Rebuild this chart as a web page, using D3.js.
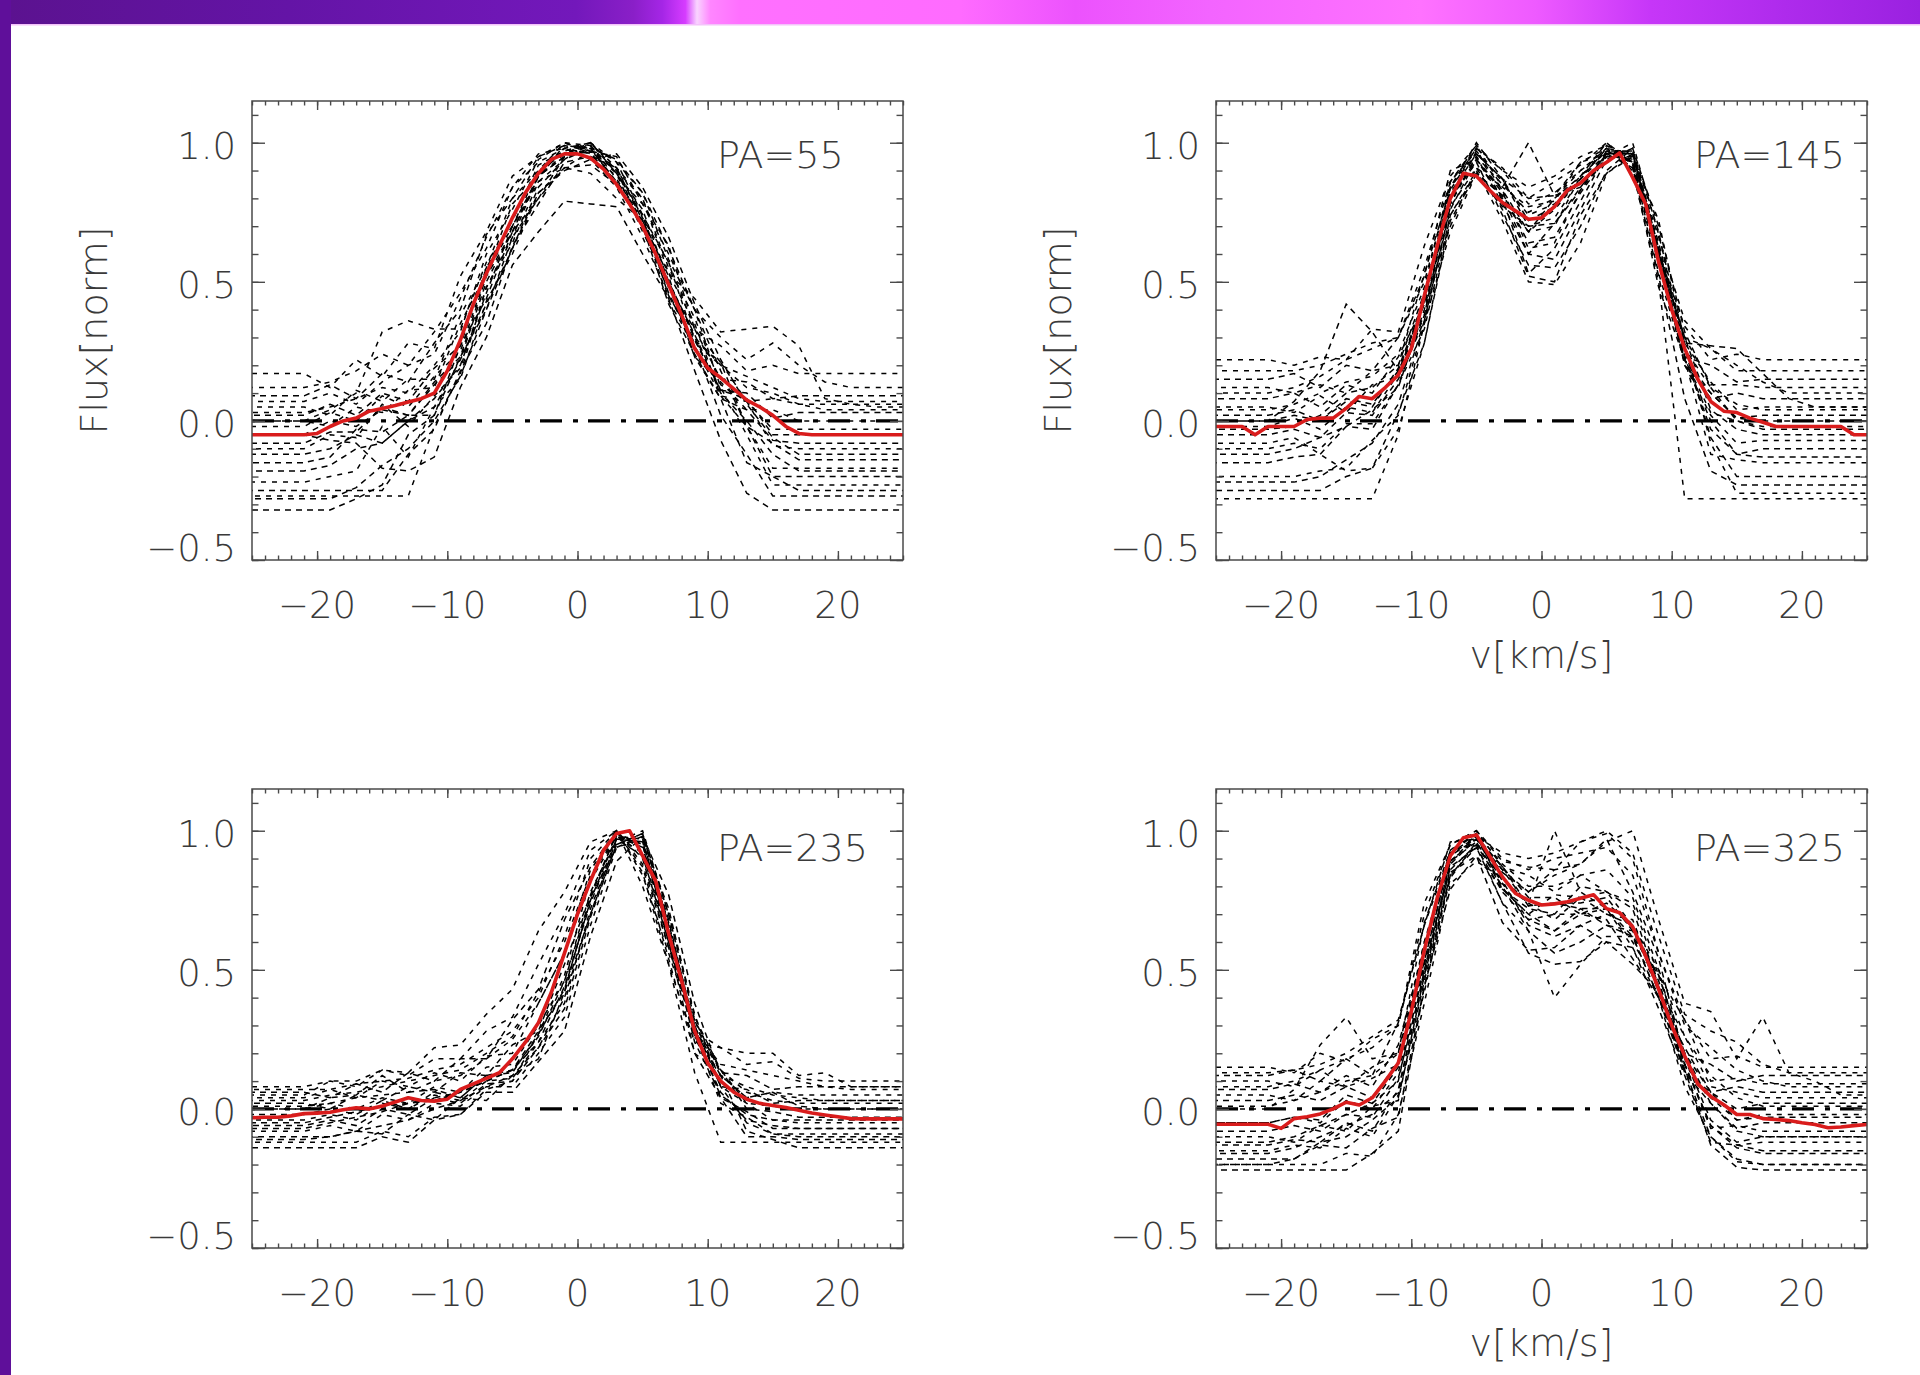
<!DOCTYPE html>
<html><head><meta charset="utf-8">
<script src="https://cdn.jsdelivr.net/npm/d3@7"></script>
<style>html,body{margin:0;padding:0;background:#fff;overflow:hidden}svg{display:block}</style>
</head><body>
<svg id="c" width="1920" height="1375"></svg>
<script>
// ---------------- DATA ----------------
const panelLabels = ["PA=55", "PA=145", "PA=235", "PA=325"];
const yTickValues = [-0.5, 0.0, 0.5, 1.0];
const yTickLabels = ["\u22120.5", "0.0", "0.5", "1.0"];
const xTickValues = [-20, -10, 0, 10, 20];
const xTickLabels = ["\u221220", "\u221210", "0", "10", "20"];
const xTitle = "v[km/s]";
const yTitle = "Flux[norm]";

const vCoarse = [-25,-23,-21,-19,-17,-15,-13,-11,-9,-7,-5,-3,-1,1,3,5,7,9,11,13,15,17,19,21,23,25];
const vFine = [-25,-24,-23,-22,-21,-20,-19,-18,-17,-16,-15,-14,-13,-12,-11,-10,-9,-8,-7,-6,-5,-4,-3,-2,-1,0,1,2,3,4,5,6,7,8,9,10,11,12,13,14,15,16,17,18,19,20,21,22,23,24,25];

const meanPA55 = [-0.05,-0.05,-0.05,-0.05,-0.05,-0.045,-0.02,0.0,0.01,0.035,0.045,0.055,0.068,0.08,0.1,0.18,0.29,0.42,0.53,0.63,0.73,0.82,0.89,0.94,0.96,0.96,0.945,0.905,0.85,0.78,0.70,0.60,0.49,0.38,0.26,0.19,0.155,0.115,0.075,0.05,0.02,-0.02,-0.045,-0.05,-0.05,-0.05,-0.05,-0.05,-0.05,-0.05,-0.05];
const meanPA145 = [-0.02,-0.02,-0.02,-0.05,-0.02,-0.02,-0.02,0.005,0.01,0.01,0.045,0.088,0.08,0.12,0.165,0.26,0.45,0.63,0.8,0.89,0.88,0.83,0.785,0.755,0.725,0.73,0.77,0.83,0.855,0.9,0.93,0.963,0.875,0.78,0.57,0.4,0.26,0.15,0.07,0.035,0.03,0.01,-0.005,-0.02,-0.02,-0.02,-0.02,-0.02,-0.02,-0.05,-0.05];
const meanPA235 = [-0.032,-0.03,-0.03,-0.025,-0.017,-0.015,-0.012,-0.003,0.004,0.0,0.01,0.025,0.04,0.03,0.028,0.035,0.07,0.09,0.11,0.13,0.18,0.24,0.31,0.42,0.56,0.7,0.82,0.93,0.99,1.0,0.91,0.82,0.63,0.46,0.28,0.165,0.1,0.06,0.035,0.02,0.012,0.005,-0.005,-0.015,-0.022,-0.028,-0.035,-0.036,-0.036,-0.036,-0.036];
const meanPA325 = [-0.055,-0.055,-0.055,-0.055,-0.055,-0.07,-0.035,-0.028,-0.018,0.0,0.024,0.014,0.04,0.1,0.165,0.35,0.57,0.76,0.91,0.975,0.985,0.91,0.834,0.775,0.75,0.733,0.737,0.745,0.757,0.77,0.72,0.705,0.655,0.55,0.43,0.3,0.19,0.09,0.045,0.015,-0.02,-0.02,-0.035,-0.038,-0.042,-0.05,-0.056,-0.068,-0.065,-0.06,-0.056];

const spectraPA55 = [
 [0.17,0.17,0.17,0.12,0.22,0.16,0.28,0.26,0.52,0.68,0.88,0.95,1.0,0.97,0.91,0.73,0.57,0.33,0.27,0.18,0.2,0.17,0.17,0.17,0.17,0.17],
 [0.09,0.09,0.09,0.13,0.08,0.17,0.14,0.28,0.4,0.67,0.8,0.95,0.99,0.98,0.86,0.74,0.48,0.33,0.15,0.14,0.08,0.09,0.09,0.09,0.09,0.09],
 [0.05,0.05,0.05,0.02,0.11,0.07,0.15,0.15,0.38,0.55,0.8,0.9,1.0,0.99,0.93,0.74,0.57,0.29,0.21,0.07,0.08,0.06,0.06,0.06,0.06,0.06],
 [0.02,0.02,0.02,0.06,0.02,0.1,0.07,0.19,0.27,0.55,0.72,0.92,0.97,1.0,0.89,0.74,0.45,0.29,0.11,0.1,0.01,0.03,0.03,0.03,0.03,0.03],
 [-0.02,-0.02,-0.02,0.03,0.0,0.09,0.05,0.16,0.25,0.53,0.7,0.9,0.96,0.99,0.87,0.72,0.43,0.27,0.09,0.07,-0.03,-0.03,-0.03,-0.03,-0.03,-0.03],
 [-0.05,-0.05,-0.05,0.0,-0.02,0.04,0.02,0.14,0.23,0.52,0.68,0.88,0.95,0.99,0.89,0.76,0.5,0.31,0.11,0.08,-0.05,-0.05,-0.05,-0.05,-0.05,-0.05],
 [-0.1,-0.1,-0.1,-0.05,-0.06,0.06,-0.02,0.09,0.19,0.48,0.64,0.86,0.94,1.0,0.91,0.8,0.55,0.37,0.13,0.07,-0.09,-0.1,-0.1,-0.1,-0.1,-0.1],
 [-0.15,-0.15,-0.15,-0.13,-0.03,-0.04,0.02,0.02,0.23,0.4,0.66,0.8,0.95,0.97,0.95,0.78,0.63,0.33,0.21,-0.02,-0.08,-0.14,-0.14,-0.14,-0.14,-0.14],
 [-0.22,-0.22,-0.22,-0.2,-0.18,-0.02,-0.13,0.05,0.15,0.43,0.6,0.82,0.91,0.97,0.9,0.8,0.53,0.35,0.09,-0.02,-0.17,-0.17,-0.17,-0.17,-0.17,-0.17],
 [-0.25,-0.25,-0.25,-0.25,-0.25,-0.25,-0.12,-0.03,0.18,0.35,0.63,0.78,0.93,0.95,0.91,0.72,0.52,0.23,0.08,-0.15,-0.2,-0.2,-0.2,-0.2,-0.2,-0.2],
 [-0.27,-0.27,-0.27,-0.27,-0.27,-0.27,-0.27,-0.02,0.17,0.48,0.66,0.88,0.96,1.0,0.93,0.82,0.58,0.4,0.12,-0.05,-0.23,-0.23,-0.23,-0.23,-0.23,-0.23],
 [-0.32,-0.32,-0.32,-0.32,-0.28,-0.23,-0.05,0.02,0.27,0.44,0.68,0.8,0.91,0.92,0.85,0.72,0.46,0.27,0.02,-0.12,-0.27,-0.27,-0.27,-0.27,-0.27,-0.27],
 [0.0,0.0,0.0,0.04,0.1,0.32,0.36,0.33,0.33,0.57,0.7,0.86,0.91,0.89,0.8,0.72,0.53,0.44,0.32,0.33,0.34,0.27,0.08,0.06,0.05,0.05],
 [-0.05,-0.05,-0.05,-0.07,-0.08,-0.17,-0.18,-0.13,0.12,0.3,0.56,0.68,0.79,0.78,0.77,0.6,0.44,0.18,-0.07,-0.26,-0.32,-0.32,-0.32,-0.32,-0.32,-0.32],
 [0.0,0.0,0.0,-0.02,0.05,0.03,0.11,0.12,0.35,0.53,0.78,0.88,0.99,0.97,0.89,0.68,0.49,0.23,0.14,0.04,0.04,0.0,0.0,0.0,0.0,0.0],
 [-0.08,-0.08,-0.08,-0.04,-0.04,0.05,0.02,0.13,0.22,0.5,0.68,0.88,0.95,0.98,0.85,0.7,0.42,0.24,0.08,0.04,-0.07,-0.08,-0.08,-0.08,-0.08,-0.08],
 [0.12,0.12,0.12,0.14,0.18,0.24,0.2,0.32,0.46,0.62,0.84,0.93,0.98,0.96,0.88,0.78,0.6,0.4,0.3,0.22,0.28,0.2,0.14,0.12,0.12,0.12],
 [-0.18,-0.18,-0.18,-0.16,-0.1,-0.08,0.0,0.08,0.2,0.46,0.7,0.88,0.98,1.0,0.9,0.7,0.5,0.3,0.1,0.0,-0.12,-0.18,-0.18,-0.18,-0.18,-0.18],
 [0.03,0.03,0.03,0.05,0.08,0.12,0.1,0.2,0.32,0.6,0.76,0.94,1.0,0.96,0.86,0.7,0.5,0.3,0.2,0.12,0.1,0.06,0.04,0.04,0.04,0.04],
 [-0.12,-0.12,-0.12,-0.1,-0.05,-0.08,0.0,0.05,0.22,0.42,0.62,0.82,0.9,0.94,0.96,0.84,0.66,0.42,0.22,0.06,-0.06,-0.12,-0.12,-0.12,-0.12,-0.12],
 [0.07,0.07,0.07,0.1,0.06,0.14,0.2,0.24,0.44,0.66,0.84,0.96,0.98,0.94,0.84,0.66,0.45,0.28,0.2,0.16,0.12,0.08,0.07,0.07,0.07,0.07],
 [-0.28,-0.28,-0.28,-0.28,-0.24,-0.16,-0.1,0.0,0.16,0.4,0.62,0.84,0.94,0.98,0.94,0.82,0.62,0.4,0.18,-0.02,-0.2,-0.25,-0.25,-0.25,-0.25,-0.25]
];
const spectraPA145 = [
 [0.22,0.22,0.22,0.2,0.23,0.22,0.33,0.32,0.63,0.88,0.99,0.84,0.77,0.79,0.93,0.96,0.96,0.6,0.34,0.22,0.24,0.22,0.22,0.22,0.22,0.22],
 [0.15,0.15,0.15,0.17,0.12,0.2,0.18,0.3,0.52,0.9,0.94,0.83,0.68,0.8,0.88,1.0,0.92,0.57,0.23,0.2,0.14,0.15,0.15,0.15,0.15,0.15],
 [0.12,0.12,0.12,0.1,0.13,0.1,0.18,0.2,0.53,0.83,0.98,0.79,0.68,0.7,0.88,0.97,0.97,0.58,0.3,0.13,0.13,0.12,0.12,0.12,0.12,0.12],
 [0.08,0.08,0.08,0.1,0.05,0.13,0.1,0.23,0.42,0.84,1.0,0.87,0.8,0.81,0.93,0.98,0.91,0.48,0.22,0.08,0.1,0.08,0.08,0.08,0.08,0.08],
 [0.05,0.05,0.05,0.03,0.09,0.03,0.13,0.16,0.45,0.78,0.97,0.83,0.62,0.64,0.83,0.95,1.0,0.67,0.28,0.14,0.04,0.05,0.05,0.05,0.05,0.05],
 [0.02,0.02,0.02,0.04,0.0,0.08,0.06,0.18,0.38,0.8,0.94,0.8,0.53,0.62,0.79,0.96,0.96,0.6,0.2,0.1,0.01,0.02,0.02,0.02,0.02,0.02],
 [-0.02,-0.02,-0.02,0.01,-0.03,0.05,0.03,0.17,0.43,0.86,0.98,0.91,0.8,0.86,0.92,1.0,0.93,0.53,0.22,0.03,0.0,-0.02,-0.02,-0.02,-0.02,-0.02],
 [-0.05,-0.05,-0.05,-0.03,-0.06,0.03,0.02,0.15,0.36,0.77,0.91,0.76,0.52,0.5,0.74,0.89,0.96,0.6,0.3,0.04,-0.03,-0.05,-0.05,-0.05,-0.05,-0.05],
 [-0.1,-0.1,-0.1,-0.08,-0.1,-0.01,-0.01,0.13,0.33,0.74,0.89,0.81,0.68,0.76,0.87,0.99,0.93,0.62,0.2,0.02,-0.08,-0.07,-0.07,-0.07,-0.07,-0.07],
 [-0.15,-0.15,-0.15,-0.13,-0.12,-0.02,-0.03,0.13,0.38,0.82,0.96,0.87,0.7,0.71,0.83,0.97,0.97,0.68,0.23,-0.03,-0.12,-0.1,-0.1,-0.1,-0.1,-0.1],
 [-0.2,-0.2,-0.2,-0.2,-0.18,-0.17,-0.07,0.02,0.35,0.68,0.89,0.77,0.7,0.73,0.87,0.96,0.97,0.58,0.22,-0.12,-0.14,-0.15,-0.15,-0.15,-0.15,-0.15],
 [-0.25,-0.25,-0.25,-0.25,-0.25,-0.2,-0.17,0.03,0.28,0.72,0.89,0.81,0.6,0.71,0.84,0.96,0.91,0.52,0.08,-0.18,-0.23,-0.23,-0.23,-0.23,-0.23,-0.23],
 [-0.28,-0.28,-0.28,-0.28,-0.28,-0.28,-0.28,-0.05,0.35,0.78,0.95,0.85,0.75,0.8,0.9,0.98,0.9,0.5,-0.28,-0.28,-0.28,-0.28,-0.28,-0.28,-0.28,-0.28],
 [0.0,0.0,0.0,0.07,0.18,0.42,0.32,0.18,0.42,0.7,0.91,0.84,1.0,0.81,0.84,0.96,0.93,0.62,0.28,0.27,0.26,0.17,0.08,0.05,0.05,0.05],
 [-0.08,-0.08,-0.08,-0.06,-0.12,-0.18,-0.17,-0.03,0.28,0.74,0.9,0.72,0.5,0.49,0.64,0.89,0.95,0.72,0.28,-0.08,-0.26,-0.26,-0.26,-0.26,-0.26,-0.26],
 [0.0,0.0,0.0,0.02,0.0,0.07,0.05,0.19,0.43,0.84,0.96,0.87,0.72,0.77,0.87,0.98,0.96,0.62,0.23,0.1,0.01,0.0,0.0,0.0,0.0,0.0],
 [0.1,0.1,0.1,0.12,0.16,0.22,0.26,0.3,0.5,0.84,0.98,0.9,0.84,0.88,0.95,0.99,0.95,0.66,0.36,0.26,0.2,0.14,0.1,0.1,0.1,0.1],
 [-0.12,-0.12,-0.12,-0.1,-0.06,-0.02,0.04,0.12,0.4,0.8,0.95,0.78,0.6,0.58,0.76,0.94,0.98,0.62,0.22,0.0,-0.12,-0.13,-0.13,-0.13,-0.13,-0.13],
 [0.04,0.04,0.04,0.06,0.1,0.14,0.16,0.24,0.48,0.86,0.99,0.9,0.78,0.82,0.9,0.97,0.94,0.56,0.26,0.12,0.06,0.04,0.04,0.04,0.04,0.04],
 [-0.22,-0.22,-0.22,-0.22,-0.2,-0.14,-0.08,0.06,0.36,0.76,0.94,0.82,0.64,0.66,0.82,0.95,0.95,0.64,0.26,-0.06,-0.2,-0.2,-0.2,-0.2,-0.2,-0.2],
 [0.18,0.18,0.18,0.18,0.2,0.24,0.28,0.3,0.55,0.86,0.97,0.86,0.74,0.78,0.88,0.97,0.93,0.6,0.3,0.26,0.18,0.18,0.18,0.18,0.18,0.18],
 [-0.03,-0.03,-0.03,-0.02,0.02,0.1,0.12,0.2,0.46,0.8,0.93,0.74,0.56,0.55,0.7,0.9,0.98,0.7,0.32,0.12,0.0,-0.03,-0.03,-0.03,-0.03,-0.03]
];
const spectraPA235 = [
 [0.08,0.08,0.08,0.1,0.08,0.14,0.12,0.18,0.18,0.28,0.33,0.52,0.7,0.93,1.0,0.84,0.56,0.28,0.22,0.16,0.17,0.11,0.1,0.1,0.1,0.1],
 [0.06,0.06,0.06,0.04,0.09,0.06,0.13,0.1,0.18,0.18,0.32,0.43,0.68,0.87,1.0,0.9,0.58,0.32,0.13,0.12,0.07,0.08,0.08,0.08,0.08,0.08],
 [0.04,0.04,0.04,0.07,0.04,0.1,0.08,0.13,0.1,0.19,0.2,0.38,0.56,0.86,0.99,0.87,0.54,0.2,0.12,0.04,0.06,0.05,0.05,0.05,0.05,0.05],
 [0.02,0.02,0.02,0.0,0.05,0.03,0.08,0.06,0.13,0.12,0.23,0.28,0.52,0.77,0.99,0.95,0.6,0.3,0.08,0.07,0.02,0.03,0.03,0.03,0.03,0.03],
 [0.0,0.0,0.0,0.02,0.0,0.04,0.02,0.08,0.06,0.15,0.16,0.3,0.46,0.78,0.97,0.96,0.67,0.28,0.14,0.02,0.01,0.0,0.0,0.0,0.0,0.0],
 [-0.02,-0.02,-0.02,0.0,-0.02,0.03,0.0,0.06,0.04,0.12,0.13,0.27,0.43,0.75,0.98,0.97,0.72,0.33,0.14,0.0,-0.01,-0.03,-0.03,-0.03,-0.03,-0.03],
 [-0.04,-0.04,-0.04,-0.02,-0.04,0.02,0.0,0.05,0.03,0.1,0.11,0.24,0.38,0.72,0.96,1.0,0.7,0.34,0.08,0.02,-0.04,-0.05,-0.05,-0.05,-0.05,-0.05],
 [-0.06,-0.06,-0.06,-0.04,-0.06,0.0,-0.02,0.04,0.02,0.09,0.1,0.22,0.36,0.69,0.95,0.99,0.66,0.3,0.04,-0.01,-0.07,-0.07,-0.07,-0.07,-0.07,-0.07],
 [-0.08,-0.08,-0.08,-0.06,-0.08,-0.02,-0.04,0.02,0.01,0.08,0.08,0.2,0.33,0.66,0.94,0.97,0.62,0.27,0.02,-0.03,-0.09,-0.09,-0.09,-0.09,-0.09,-0.09],
 [-0.1,-0.1,-0.1,-0.1,-0.08,-0.09,-0.02,-0.04,0.04,0.03,0.12,0.18,0.42,0.7,0.97,0.91,0.6,0.2,0.04,-0.1,-0.1,-0.11,-0.11,-0.11,-0.11,-0.11],
 [-0.12,-0.12,-0.12,-0.12,-0.12,-0.08,-0.1,-0.03,-0.02,0.07,0.1,0.27,0.48,0.83,1.0,0.85,0.52,0.13,-0.12,-0.12,-0.12,-0.12,-0.12,-0.12,-0.12,-0.12],
 [-0.14,-0.14,-0.14,-0.14,-0.14,-0.1,-0.12,-0.04,-0.02,0.06,0.06,0.17,0.28,0.62,0.89,0.98,0.77,0.38,0.12,-0.08,-0.11,-0.14,-0.14,-0.14,-0.14,-0.14],
 [0.05,0.05,0.05,0.1,0.1,0.14,0.13,0.22,0.23,0.34,0.43,0.64,0.78,0.96,1.0,0.8,0.52,0.24,0.22,0.2,0.2,0.12,0.13,0.08,0.08,0.08],
 [0.0,0.0,0.0,0.04,0.05,0.12,0.06,0.07,0.04,0.12,0.14,0.28,0.42,0.76,0.94,0.98,0.68,0.28,0.12,0.04,0.06,0.01,0.0,0.0,0.0,0.0],
 [0.07,0.07,0.07,0.07,0.09,0.1,0.11,0.14,0.16,0.22,0.28,0.4,0.62,0.9,1.0,0.88,0.58,0.28,0.16,0.14,0.12,0.1,0.08,0.07,0.07,0.07],
 [-0.07,-0.07,-0.07,-0.05,-0.03,-0.01,0.02,0.03,0.06,0.1,0.14,0.24,0.44,0.74,0.97,0.96,0.64,0.26,0.06,-0.04,-0.06,-0.07,-0.07,-0.07,-0.07,-0.07],
 [0.03,0.03,0.03,0.05,0.06,0.08,0.1,0.12,0.14,0.2,0.26,0.42,0.6,0.84,0.98,0.92,0.6,0.26,0.12,0.08,0.05,0.04,0.03,0.03,0.03,0.03],
 [-0.11,-0.11,-0.11,-0.1,-0.08,-0.06,-0.04,0.0,0.03,0.08,0.12,0.22,0.4,0.7,0.95,0.99,0.7,0.32,0.08,-0.05,-0.09,-0.1,-0.1,-0.1,-0.1,-0.1],
 [0.01,0.01,0.01,0.02,0.04,0.05,0.06,0.1,0.12,0.18,0.25,0.38,0.56,0.82,0.98,0.94,0.64,0.3,0.14,0.06,0.03,0.02,0.02,0.02,0.02,0.02],
 [-0.05,-0.05,-0.05,-0.03,-0.01,0.01,0.02,0.04,0.06,0.1,0.14,0.26,0.46,0.76,0.99,0.95,0.62,0.24,0.05,-0.02,-0.04,-0.04,-0.04,-0.04,-0.04,-0.04]
];
const spectraPA325 = [
 [0.15,0.15,0.15,0.13,0.2,0.17,0.25,0.3,0.74,0.95,1.0,0.87,0.84,0.78,0.84,0.78,0.74,0.48,0.32,0.18,0.19,0.15,0.15,0.15,0.15,0.15],
 [0.12,0.12,0.12,0.14,0.1,0.18,0.12,0.31,0.66,0.96,0.97,0.86,0.73,0.74,0.74,0.76,0.64,0.48,0.2,0.16,0.1,0.12,0.12,0.12,0.12,0.12],
 [0.1,0.1,0.1,0.08,0.14,0.08,0.15,0.2,0.67,0.93,1.0,0.89,0.87,0.86,0.96,0.99,0.9,0.56,0.32,0.1,0.11,0.09,0.09,0.09,0.09,0.09],
 [0.07,0.07,0.07,0.09,0.06,0.12,0.08,0.23,0.58,0.93,0.99,0.79,0.7,0.64,0.72,0.66,0.62,0.4,0.22,0.06,0.08,0.06,0.06,0.06,0.06,0.06],
 [0.05,0.05,0.05,0.03,0.1,0.08,0.11,0.16,0.6,0.89,0.98,0.81,0.74,0.68,0.76,0.7,0.68,0.44,0.26,0.08,0.06,0.04,0.04,0.04,0.04,0.04],
 [0.03,0.03,0.03,0.05,0.03,0.08,0.04,0.17,0.53,0.91,0.97,0.87,0.76,0.76,0.7,0.68,0.54,0.4,0.13,0.06,0.0,0.02,0.02,0.02,0.02,0.02],
 [-0.05,-0.05,-0.05,-0.03,-0.05,0.03,0.0,0.13,0.5,0.89,0.96,0.81,0.68,0.7,0.7,0.72,0.6,0.44,0.16,0.04,-0.04,-0.02,-0.02,-0.02,-0.02,-0.02],
 [-0.08,-0.08,-0.08,-0.06,-0.08,-0.02,-0.03,0.11,0.48,0.87,0.94,0.74,0.56,0.52,0.53,0.6,0.52,0.42,0.13,0.02,-0.07,-0.05,-0.05,-0.05,-0.05,-0.05],
 [-0.1,-0.1,-0.1,-0.12,-0.06,-0.08,0.01,0.03,0.48,0.84,0.95,0.74,0.64,0.4,0.52,0.62,0.62,0.4,0.16,-0.07,-0.06,-0.08,-0.08,-0.08,-0.08,-0.08],
 [-0.13,-0.13,-0.13,-0.11,-0.12,-0.05,-0.08,0.07,0.48,0.89,0.97,0.85,0.78,0.86,0.88,0.97,0.78,0.54,0.18,-0.04,-0.12,-0.1,-0.1,-0.1,-0.1,-0.1],
 [-0.15,-0.15,-0.15,-0.13,-0.14,-0.07,-0.1,0.05,0.42,0.85,0.91,0.79,0.7,0.77,0.76,0.78,0.66,0.5,0.16,-0.06,-0.13,-0.12,-0.12,-0.12,-0.12,-0.12],
 [-0.18,-0.18,-0.18,-0.18,-0.13,-0.14,-0.07,-0.03,0.44,0.79,0.91,0.67,0.57,0.58,0.66,0.6,0.58,0.36,0.12,-0.12,-0.13,-0.15,-0.15,-0.15,-0.15,-0.15],
 [-0.2,-0.2,-0.2,-0.2,-0.2,-0.16,-0.17,-0.02,0.38,0.81,0.89,0.83,0.74,1.0,0.78,0.72,0.58,0.4,0.08,-0.1,-0.19,-0.2,-0.2,-0.2,-0.2,-0.2],
 [-0.22,-0.22,-0.22,-0.22,-0.22,-0.22,-0.16,-0.08,0.44,0.83,0.96,0.79,0.72,0.7,0.8,0.78,0.72,0.44,0.14,-0.13,-0.21,-0.22,-0.22,-0.22,-0.22,-0.22],
 [0.0,0.0,0.0,0.07,0.23,0.33,0.18,0.2,0.56,0.93,0.95,0.86,0.78,0.84,0.88,0.96,1.0,0.68,0.38,0.35,0.18,0.33,0.13,0.1,0.05,0.05],
 [-0.05,-0.05,-0.05,-0.03,-0.04,0.05,0.02,0.15,0.53,0.91,0.98,0.87,0.73,0.74,0.72,0.72,0.62,0.48,0.2,0.06,-0.04,-0.03,-0.03,-0.03,-0.03,-0.03],
 [0.08,0.08,0.08,0.1,0.14,0.18,0.22,0.3,0.7,0.95,1.0,0.9,0.86,0.9,0.92,0.94,0.84,0.56,0.3,0.22,0.14,0.1,0.08,0.08,0.08,0.08],
 [-0.16,-0.16,-0.16,-0.14,-0.1,-0.06,-0.02,0.06,0.5,0.88,0.97,0.82,0.66,0.62,0.66,0.7,0.66,0.46,0.16,-0.06,-0.14,-0.16,-0.16,-0.16,-0.16,-0.16],
 [0.01,0.01,0.01,0.03,0.06,0.1,0.12,0.2,0.6,0.92,0.99,0.88,0.8,0.8,0.84,0.86,0.76,0.5,0.26,0.12,0.04,0.01,0.01,0.01,0.01,0.01],
 [-0.12,-0.12,-0.12,-0.1,-0.06,-0.02,0.02,0.1,0.52,0.86,0.95,0.8,0.64,0.56,0.6,0.66,0.64,0.44,0.2,0.02,-0.08,-0.1,-0.1,-0.1,-0.1,-0.1],
 [0.13,0.13,0.13,0.14,0.16,0.2,0.26,0.32,0.66,0.92,0.98,0.92,0.9,0.92,0.96,1.0,0.92,0.62,0.34,0.28,0.24,0.16,0.13,0.13,0.13,0.13],
 [-0.2,-0.2,-0.2,-0.18,-0.12,-0.1,-0.04,0.04,0.46,0.84,0.94,0.78,0.68,0.64,0.7,0.74,0.66,0.42,0.14,-0.1,-0.18,-0.2,-0.2,-0.2,-0.2,-0.2]
];

// ---------------- LAYOUT ----------------
const panels = [
  {label: panelLabels[0], mean: meanPA55,  spectra: spectraPA55,  col: 0, row: 0},
  {label: panelLabels[1], mean: meanPA145, spectra: spectraPA145, col: 1, row: 0},
  {label: panelLabels[2], mean: meanPA235, spectra: spectraPA235, col: 0, row: 1},
  {label: panelLabels[3], mean: meanPA325, spectra: spectraPA325, col: 1, row: 1}
];
const colX = [252, 1216], rowY = [101, 789];
const PW = 651, PH = 459;
const FONT = "'DejaVu Sans', sans-serif";
const FW = 200;
const TXT = "#3a3a3a", AX = "#4a4a4a";

const svg = d3.select("#c");
const defs = svg.append("defs");

const grad = defs.append("linearGradient").attr("id", "topg").attr("x1", 0).attr("x2", 1).attr("y1", 0).attr("y2", 0);
[[0,"#5b128f"],[0.15,"#6414a6"],[0.30,"#7318bb"],[0.33,"#8a1fc8"],[0.345,"#a526e6"],[0.357,"#d63cff"],
 [0.363,"#f9d4ff"],[0.370,"#ff86ff"],[0.385,"#ff70ff"],[0.5,"#ff6bff"],[0.56,"#ec52fd"],[0.63,"#f364ff"],
 [0.74,"#ff72ff"],[0.80,"#ee5aff"],[0.86,"#c636f8"],[0.93,"#ae2bec"],[1,"#9a21e0"]]
  .forEach(([o,c]) => grad.append("stop").attr("offset", o).attr("stop-color", c));
svg.append("rect").attr("x", 0).attr("y", 0).attr("width", 1920).attr("height", 24).attr("fill", "url(#topg)");
svg.append("rect").attr("x", 0).attr("y", 24).attr("width", 1920).attr("height", 1.5).attr("fill", "#f3c3fa");
svg.append("rect").attr("x", 0).attr("y", 0).attr("width", 11).attr("height", 1375).attr("fill", "#5f0f9a");

panels.forEach((p, i) => {
  const x0 = colX[p.col], y0 = rowY[p.row];
  const x = d3.scaleLinear().domain([-25, 25]).range([x0, x0 + PW]);
  const y = d3.scaleLinear().domain([-0.5, 1.15]).range([y0 + PH, y0]);
  const g = svg.append("g");

  const clipId = "clip" + i;
  defs.append("clipPath").attr("id", clipId).append("rect")
    .attr("x", x0).attr("y", y0).attr("width", PW).attr("height", PH);
  const plot = g.append("g").attr("clip-path", `url(#${clipId})`);

  const lineC = d3.line().x((d, k) => x(vCoarse[k])).y(d => y(d));
  const lineF = d3.line().x((d, k) => x(vFine[k])).y(d => y(d));

  plot.selectAll("path.spec").data(p.spectra).join("path")
    .attr("class", "spec").attr("d", lineC)
    .attr("fill", "none").attr("stroke", "#000").attr("stroke-width", 1.5)
    .attr("stroke-dasharray", (d, k) => k % 2 ? "6,5" : "5,6")
    .attr("stroke-dashoffset", (d, k) => (k * 3) % 11);

  plot.append("path").attr("d", d3.line()([[x(-25), y(0)], [x(25), y(0)]]))
    .attr("stroke", "#000").attr("stroke-width", 3.4)
    .attr("stroke-dasharray", "22,11,5,10");

  plot.append("path").attr("d", lineF(p.mean))
    .attr("fill", "none").attr("stroke", "#d91c1c").attr("stroke-width", 3.6)
    .attr("stroke-linejoin", "round");

  const tickStyle = s => { s.select(".domain").remove(); s.selectAll("line").attr("stroke", AX).attr("stroke-width", 1.4); };
  const xMinor = x.ticks(50), yMinor = y.ticks(17);
  g.append("g").attr("transform", `translate(0,${y0 + PH})`)
    .call(d3.axisBottom(x).tickValues(xMinor).tickSize(-4.5).tickFormat("")).call(tickStyle);
  g.append("g").attr("transform", `translate(0,${y0 + PH})`)
    .call(d3.axisBottom(x).tickValues(xTickValues).tickSize(-9).tickFormat("")).call(tickStyle);
  g.append("g").attr("transform", `translate(0,${y0})`)
    .call(d3.axisTop(x).tickValues(xMinor).tickSize(-4.5).tickFormat("")).call(tickStyle);
  g.append("g").attr("transform", `translate(0,${y0})`)
    .call(d3.axisTop(x).tickValues(xTickValues).tickSize(-9).tickFormat("")).call(tickStyle);
  g.append("g").attr("transform", `translate(${x0},0)`)
    .call(d3.axisLeft(y).tickValues(yMinor).tickSize(-6.5).tickFormat("")).call(tickStyle);
  g.append("g").attr("transform", `translate(${x0},0)`)
    .call(d3.axisLeft(y).tickValues(yTickValues).tickSize(-13).tickFormat("")).call(tickStyle);
  g.append("g").attr("transform", `translate(${x0 + PW},0)`)
    .call(d3.axisRight(y).tickValues(yMinor).tickSize(-6.5).tickFormat("")).call(tickStyle);
  g.append("g").attr("transform", `translate(${x0 + PW},0)`)
    .call(d3.axisRight(y).tickValues(yTickValues).tickSize(-13).tickFormat("")).call(tickStyle);

  g.append("rect").attr("x", x0).attr("y", y0).attr("width", PW).attr("height", PH)
    .attr("fill", "none").attr("stroke", AX).attr("stroke-width", 1.5);

  const txt = s => s.attr("font-family", FONT).attr("font-weight", FW).attr("fill", TXT);

  g.selectAll("text.yl").data(yTickValues).join("text").attr("class", "yl")
    .attr("x", x0 - 16).attr("y", (d) => d === -0.5 ? y(d) + 1 : y(d) + 16)
    .attr("text-anchor", "end").attr("font-size", 37).call(txt)
    .text((d, k) => yTickLabels[k]);
  g.selectAll("text.xl").data(xTickValues).join("text").attr("class", "xl")
    .attr("x", d => x(d)).attr("y", y0 + PH + 58)
    .attr("text-anchor", "middle").attr("font-size", 37).call(txt)
    .text((d, k) => xTickLabels[k]);

  g.append("text").attr("x", x0 + (p.col === 0 ? 465 : 478)).attr("y", y0 + (p.row === 0 ? 67 : 72))
    .attr("font-size", 38).call(txt).text(p.label);

  if (p.row === 0) {
    g.append("text").attr("transform", `translate(${x0 - 145},${y0 + PH / 2}) rotate(-90)`)
      .attr("text-anchor", "middle").attr("font-size", 38).call(txt)
      .text(yTitle);
  }
  if (p.col === 1) {
    g.append("text").attr("x", x0 + PW / 2).attr("y", y0 + PH + 108)
      .attr("text-anchor", "middle").attr("font-size", 38).call(txt)
      .text(xTitle);
  }
});
</script>
</body></html>
